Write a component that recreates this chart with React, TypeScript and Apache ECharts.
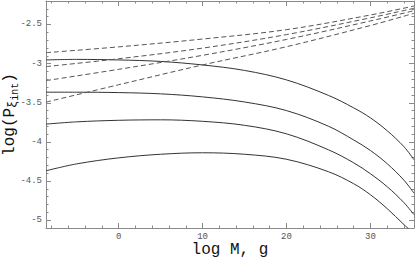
import React, { useEffect, useRef } from "react";
import * as echarts from "echarts";

// Axis ranges (data units)
const X_MIN = -8.65;
const X_MAX = 35.19;
const Y_MIN = -5.1;
const Y_MAX = -2.2;

// Tick labels
const xMajorTicks = [0, 10, 20, 30];
const yMajorTicks = [-5, -4.5, -4, -3.5, -3, -2.5];

// Solid curves (log M, log value)
const xSolid = [-8.65, -5, 0, 5, 10, 15, 20, 25, 28, 30, 32, 34, 35.19];
const solid1 = [-2.953, -2.946, -2.953, -2.972, -3.017, -3.087, -3.208, -3.406, -3.565, -3.693, -3.858, -4.062, -4.228];
const solid2 = [-3.365, -3.365, -3.37, -3.386, -3.425, -3.49, -3.6, -3.8, -3.975, -4.11, -4.279, -4.49, -4.655];
const solid3 = [-3.773, -3.744, -3.724, -3.718, -3.737, -3.788, -3.897, -4.101, -4.267, -4.407, -4.573, -4.777, -4.93];
const solid4 = [-4.369, -4.281, -4.204, -4.158, -4.139, -4.158, -4.222, -4.381, -4.534, -4.675, -4.853, -5.057, -5.172];

// Dashed curves
const xDashed = [-8.65, 0, 10, 20, 30, 35.19];
const dashed1 = [-2.86, -2.786, -2.686, -2.566, -2.379, -2.264];
const dashed2 = [-3.038, -2.938, -2.802, -2.629, -2.415, -2.293];
const dashed3 = [-3.217, -3.073, -2.894, -2.691, -2.455, -2.324];
const dashed4 = [-3.492, -3.27, -3.017, -2.784, -2.513, -2.357];

const solidSeries = [solid1, solid2, solid3, solid4];
const dashedSeries = [dashed1, dashed2, dashed3, dashed4];

function minorValues(min: number, max: number, step: number, majorStep: number) {
  const out: number[] = [];
  const start = Math.ceil(min / step - 1e-9);
  const end = Math.floor(max / step + 1e-9);
  for (let i = start; i <= end; i++) {
    const v = Math.round(i * step * 1000) / 1000;
    if (v <= min + 1e-9 || v >= max - 1e-9) continue;
    const r = v / majorStep;
    if (Math.abs(r - Math.round(r)) < 1e-6) continue;
    out.push(v);
  }
  return out;
}

const xMinorTicks = minorValues(X_MIN, X_MAX, 2, 10);
const yMinorTicks = minorValues(Y_MIN, Y_MAX, 0.1, 0.5);

const MONO = "'Liberation Mono', 'DejaVu Sans Mono', monospace";
const AXIS_COLOR = "#8a8a8a";

function baseAxis(min: number, max: number, position: string, ticks: number[], len: number, showLine: boolean) {
  return {
    type: "value",
    min,
    max,
    position,
    splitLine: { show: false },
    axisLine: { show: showLine, onZero: false, lineStyle: { color: AXIS_COLOR, width: 1 } },
    axisLabel: { show: false },
    axisTick: {
      show: true,
      inside: true,
      length: len,
      customValues: ticks,
      lineStyle: { color: AXIS_COLOR, width: 1 },
    },
  };
}

export default function App() {
  const ref = useRef<HTMLDivElement>(null);

  useEffect(() => {
    if (!ref.current) return;
    const chart = echarts.init(ref.current, undefined, { renderer: "svg" });

    const xAxes: any[] = [
      {
        ...baseAxis(X_MIN, X_MAX, "bottom", xMajorTicks, 5, true),
        axisLabel: {
          show: true,
          customValues: xMajorTicks,
          margin: 4,
          fontFamily: MONO,
          fontSize: 9,
          lineHeight: 9,
          color: "#555",
          formatter: (v: number) => String(v),
        },
        name: "log M, g",
        nameLocation: "middle",
        nameGap: 14,
        nameMoveOverlap: false,
        nameTextStyle: { fontFamily: MONO, fontSize: 16, lineHeight: 15, color: "#111", verticalAlign: "top" },
      },
      baseAxis(X_MIN, X_MAX, "bottom", xMinorTicks, 2.5, false),
      baseAxis(X_MIN, X_MAX, "top", xMajorTicks, 5, true),
      baseAxis(X_MIN, X_MAX, "top", xMinorTicks, 2.5, false),
    ];

    const yAxes: any[] = [
      {
        ...baseAxis(Y_MIN, Y_MAX, "left", yMajorTicks, 5, true),
        axisLabel: {
          show: true,
          customValues: yMajorTicks,
          margin: 4,
          fontFamily: MONO,
          fontSize: 9,
          color: "#555",
          formatter: (v: number) => String(v),
        },
        name: "{a|log(P}{b|ξ}{c|int}{a|)}",
        nameLocation: "middle",
        nameGap: 26,
        nameRotate: 90,
        nameMoveOverlap: false,
        nameTextStyle: {
          fontFamily: MONO,
          color: "#111",
          rich: {
            a: { fontFamily: MONO, fontSize: 16, color: "#111", lineHeight: 18 },
            b: { fontFamily: MONO, fontSize: 12, color: "#111", padding: [6, 0, 0, 0] },
            c: { fontFamily: MONO, fontSize: 10, color: "#111", padding: [10, 0, 0, 0] },
          },
        },
      },
      baseAxis(Y_MIN, Y_MAX, "left", yMinorTicks, 2.5, false),
      baseAxis(Y_MIN, Y_MAX, "right", yMajorTicks, 5, true),
      baseAxis(Y_MIN, Y_MAX, "right", yMinorTicks, 2.5, false),
    ];

    const series: any[] = [];
    solidSeries.forEach((arr, i) => {
      series.push({
        name: "solid" + (i + 1),
        type: "line",
        xAxisIndex: 0,
        yAxisIndex: 0,
        data: xSolid.map((x, j) => [x, arr[j]]),
        smooth: 0.35,
        showSymbol: false,
        symbol: "none",
        clip: true,
        lineStyle: { color: "#333", width: 1 },
      });
    });
    dashedSeries.forEach((arr, i) => {
      series.push({
        name: "dashed" + (i + 1),
        type: "line",
        xAxisIndex: 0,
        yAxisIndex: 0,
        data: xDashed.map((x, j) => [x, arr[j]]),
        smooth: 0.35,
        showSymbol: false,
        symbol: "none",
        clip: true,
        lineStyle: { color: "#555", width: 1, type: [5, 3] },
      });
    });

    chart.setOption({
      animation: false,
      backgroundColor: "#ffffff",
      grid: { left: 46, right: 1, top: 1, bottom: 29, containLabel: false, outerBoundsMode: "none" },
      xAxis: xAxes,
      yAxis: yAxes,
      series,
    });

    return () => chart.dispose();
  }, []);

  return (
    <div
      ref={ref}
      style={{ position: "fixed", left: 0, top: 0, width: 415, height: 257, background: "#fff" }}
    />
  );
}
